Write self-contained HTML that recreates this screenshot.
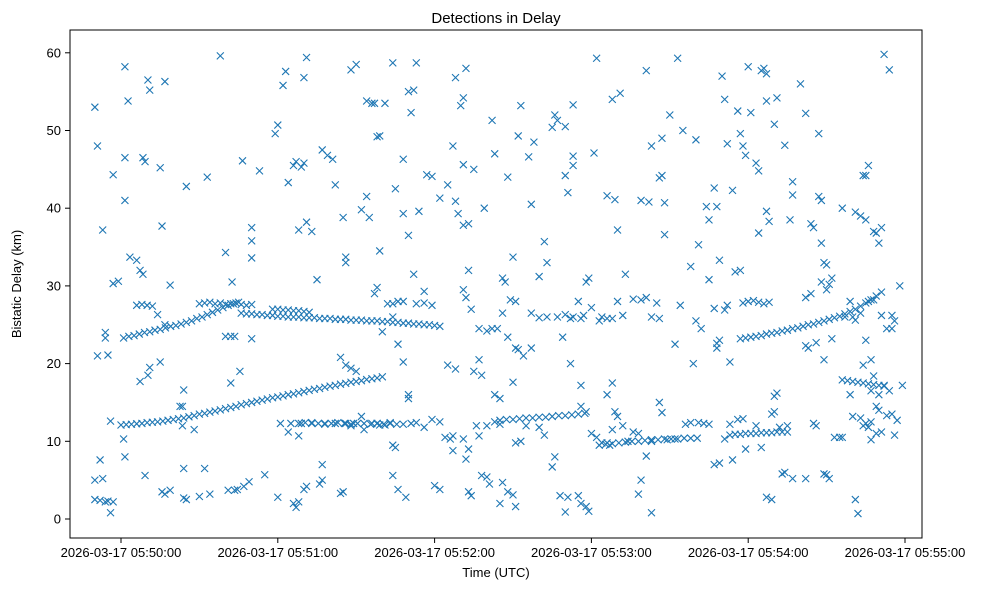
<!DOCTYPE html>
<html><head><meta charset="utf-8"><style>
body{margin:0;background:#fff;}
svg{display:block;font-family:"Liberation Sans","DejaVu Sans",sans-serif;}
</style></head><body>
<svg id="chart" width="988" height="590" viewBox="0 0 988 590" xmlns="http://www.w3.org/2000/svg">
<rect x="0" y="0" width="988" height="590" fill="#fff"/>
<text x="496" y="23" text-anchor="middle" font-size="15" fill="#000">Detections in Delay</text>
<g id="marks"></g>
<g id="axes"></g>
<rect x="70" y="30" width="852" height="508" fill="none" stroke="#000" stroke-width="1"/>
<text x="496" y="577" text-anchor="middle" font-size="13">Time (UTC)</text>
<text x="21" y="284" text-anchor="middle" font-size="13" transform="rotate(-90 21 284)">Bistatic Delay (km)</text>
</svg>
<script>
const yTicks=[0,10,20,30,40,50,60];
const xTickSecs=[0,60,120,180,240,300];
const xTickLabels=["2026-03-17 05:50:00","2026-03-17 05:51:00","2026-03-17 05:52:00","2026-03-17 05:53:00","2026-03-17 05:54:00","2026-03-17 05:55:00"];

const trackA_t=[0,2,4,6,8,10,12,14,16,18,20,22,24,26,28,30,32,34,36,38,40,42,44,46,48,50,52,54,56,58,60,62,64,66,68,70,72,74,76,78,80,82,84,86,88,90,92,94,96,98,100];
const trackA_km=[12.1,12.15,12.2,12.25,12.3,12.4,12.45,12.5,12.6,12.7,12.8,12.9,13.0,13.15,13.3,13.5,13.6,13.75,13.9,14.05,14.2,14.35,14.5,14.7,14.85,15.0,15.15,15.3,15.45,15.6,15.7,15.85,16.0,16.1,16.25,16.4,16.55,16.7,16.8,16.95,17.1,17.2,17.35,17.45,17.6,17.7,17.8,17.95,18.05,18.15,18.3];
const trackB_t=[1,3,5,7,9,11,13,15,17,19,21,23,25,27,29,31,33,35,37,39,41,43,45];
const trackB_km=[23.3,23.5,23.6,23.8,24.0,24.1,24.3,24.4,24.6,24.8,24.9,25.1,25.3,25.5,25.8,26.0,26.3,26.6,26.9,27.2,27.5,27.7,27.9];
const trackB2_t=[6,8,10,12,30,32,34,36,38,40,42,44,46,48,50];
const trackB2_km=[27.5,27.6,27.5,27.4,27.7,27.8,27.9,27.7,27.8,27.6,27.7,27.8,27.6,27.5,27.6];
const trackC_t=[46,48,50,52,54,56,58,60,62,64,66,68,70,72,74,76,78,80,82,84,86,88,90,92,94,96,98,100,102,104,106,108,110,112,114,116,118,120,122];
const trackC_km=[26.5,26.4,26.4,26.3,26.3,26.2,26.2,26.1,26.1,26.0,26.0,26.0,25.9,25.9,25.9,25.8,25.8,25.8,25.7,25.7,25.7,25.6,25.6,25.6,25.5,25.5,25.5,25.4,25.4,25.3,25.3,25.2,25.2,25.1,25.1,25.0,25.0,24.9,24.8];
const trackC2_t=[58,60,62,64,66,68,70,72];
const trackC2_km=[27.0,27.0,26.9,26.9,26.8,26.8,26.7,26.6];
const trackD_t=[68,70.5,73,75.5,78,80.5,83,85.5,88,90.5,93,95.5,98,100.5,103,105.5,108];
const trackD_km=[12.3,12.4,12.3,12.3,12.2,12.3,12.4,12.3,12.2,12.3,12.3,12.2,12.3,12.2,12.3,12.2,12.2];
const trackE_t=[183,185.5,188,190.5,193,195.5,198,200.5,203,205.5,208,210.5,213,215.5,218,220.5];
const trackE_km=[9.5,9.6,9.7,9.8,9.9,10.0,10.0,10.1,10.2,10.2,10.3,10.3,10.3,10.4,10.4,10.4];
const trackF_t=[233,235,237,239,241,243,245,247,249,251,253,255];
const trackF_km=[10.8,10.9,10.9,11.0,11.0,11.0,11.1,11.1,11.1,11.2,11.2,11.2];
const trackG_t=[237,239,241,243,245,247,249,251,253,255,257,259,261,263,265,267,269,271,273,275,277,279,281,283,285,287,289,291];
const trackG_km=[23.2,23.3,23.4,23.5,23.6,23.8,23.9,24.0,24.2,24.3,24.5,24.6,24.8,25.0,25.1,25.3,25.5,25.7,25.9,26.1,26.4,26.7,27.0,27.4,27.8,28.2,28.7,29.2];
const trackG2_t=[238,240,242,244,246,248];
const trackG2_km=[27.8,28.0,28.1,27.9,27.7,27.9];
const trackH_t=[276,278,280,282,284,286,288,290,292];
const trackH_km=[17.9,17.8,17.7,17.6,17.5,17.4,17.3,17.2,17.1];
const trackI_t=[145,147.5,150,152.5,155,157.5,160,162.5,165,167.5,170,172.5,175,177.5];
const trackI_km=[12.7,12.8,12.8,12.9,13.0,13.0,13.1,13.1,13.2,13.3,13.3,13.4,13.5,13.6];

const noiseEarly=[[-10,53],[-9,48],[-7,37.2],[-9,21],[-8,7.6],[-10,5],[-7,5.2],[-10,2.5],[-8,2.4],[-6,2.2],[-5,2.3],[-3,2.2],[-4,0.8],[-6,23.3],[-6,24],[-5,21.1],[-3,30.3],[-3,44.3],[-4,12.6],[-1,30.6],
[1.5,58.2],[1.5,46.5],[1.5,41],[1,10.3],[1.5,8],[2.7,53.8],[3.4,33.7],[6,33.3],[7.3,32],[8.4,31.5],[7.3,17.7],[10.3,18.5],[11,19.5],[9.2,5.6],[10.3,56.5],[11,55.2],[8.4,46.5],[9.2,46],[15,45.2],[15.7,37.7],[16.8,56.3],[15,20.2],[18.8,30.1],[16.8,3.2],[18.8,3.7],[15.7,3.5],[14,26.3],[16.8,25],
[22.6,14.5],[23.5,14.5],[24,16.6],[23.5,12],[24,2.7],[25,2.5],[25,42.8],[24,6.5],[28,11.5],[30,2.9],[32,6.5],[33,44],[34,3.2],[38,59.6],[40,34.3],[41,3.7],[42,17.5],[42.5,30.5],[43.5,3.7],[44.5,3.8],[45.5,19],[46.5,46.1],[47,4.2],[49,4.8],[50,35.8],[50,37.5],[50,33.6],[50,23.2],[40,23.5],[42,23.5],[43.5,23.5]];
const noiseMid=[[53,44.8],[59,49.6],[60,50.7],[62,55.8],[63,57.6],[66,45.5],[64,43.3],[67,46],[69,45.3],[68,37.2],[70,45.8],[70,56.8],[71,59.4],[71,38.2],[73,37],[75,30.8],[77,47.5],[79,46.8],[81,46.3],[82,43],[85,38.8],[86,33.7],[86,33],[88,57.8],[90,58.5],[92,39.8],[94,41.5],[95,38.8],[94,53.8],[96,53.5],[97,53.5],[98,49.2],[99,49.3],[99,34.5],[98,29.8],[97,29],[101,53.5],[104,58.7],[105,42.5],[108,46.3],[108,39.3],[110,36.5],[110,55],[112,55.2],[111,52.3],[113,58.7],[112,31.5],[106,28],[108,28],[104,26],[100,24.1],[102,27.7],[104,27.7],[113,27.7],[116,29.3],[116,27.8],[119,27.5],
[55,5.7],[60,2.8],[61,12.3],[64,11.2],[65,12.3],[66,2],[67,1.5],[68,2.2],[68,10.7],[69,12.3],[70,3.8],[71,4.2],[73,12.4],[76,4.5],[77,5],[77,7],[78,12.3],[82,12.3],[84,3.3],[85,3.5],[86,12.3],[88,12],[89,12.3],[84,20.8],[86,19.8],[88,19.4],[90,19],[92,13.2],[93,11.5],[96,12.3],[98,12.3],[99,12.1],[101,12.1],[103,12.4],[104,9.5],[105,9.2],[104,5.6],[106,3.8],[109,2.8],[106,22.5],[108,20.2],[110,16],[110,15.5],[111,12.3],[113,12.4],[116,11.8],[119,12.8],[120,4.3],[122,3.8],[124,10.5],[126,10.3],[127,8.8],[128,19.3],[125,19.8],[127,10.7]];
const noiseCenter=[[114,39.6],[117,44.3],[119,44.1],[122,41.3],[125,43],[127,48],[128,40.9],[129,39.3],[131,37.8],[133,38],[130,53.2],[131,54.2],[132,58],[128,56.8],[131,45.6],[135,45],[139,40],[142,51.3],[143,47],[146,31],[147,30.5],[149,28.2],[151,28],[150,33.7],[148,44],[152,49.3],[153,53.2],[156,46.6],[158,48.5],[157,40.5],[160,31.2],[162,35.7],[163,33],[165,50.4],[166,52],[167,51.3],[170,50.5],[170,44.2],[173,53.3],[173,46.7],[173,45.5],[171,42],[175,28],[178,30.5],[179,31],[180,27.2],[181,47.1],[182,59.3],[186,41.6],[188,54],[189,41.1],[190,37.2],[191,54.8],[193,31.5],[196,28.3],
[131,29.5],[132,28.5],[133,32],[134,27],[137,24.5],[140,24.2],[142,24.5],[144,24.5],[146,26.5],[148,23.4],[151,22],[152,21.8],[154,21],[157,22],[157,26.5],[160,25.9],[163,26],[167,26],[170,26.3],[172,25.8],[173,26],[176,25.8],[177,26.2],[169,23.4],[172,20],[176,17.2],[176,14.5],[178,13.8],[183,25.5],[184,26],[186,25.8],[188,25.8],[190,28],[192,26.2],[135,19],[137,20.5],[138,18.5],[143,16],[145,15.5],[150,17.6],
[122,12.5],[131,10.3],[133,9],[132,7.7],[136,12],[137,10.7],[140,12],[143,12.5],[145,12.2],[151,9.8],[153,10],[155,12],[133,3.5],[134,3],[138,5.6],[140,5.4],[141,4.5],[145,2],[146,4.7],[148,3.5],[150,3.1],[151,1.6],[160,11.8],[162,10.8],[165,6.7],[166,8],[168,3],[170,0.9],[171,2.8],[175,3],[176,2],[178,1.6],[179,1],[180,11],[182,10.5],[184,9.8],[186,9.8],[188,11.5],[192,12],[194,10],[190,13.2],[187,9.5],[196,11.2],[198,11]];
const noiseLate=[[199,41],[202,40.8],[201,57.7],[203,48],[206,43.9],[207,49],[207,44.2],[208,40.7],[210,52],[213,59.3],[215,50],[218,32.5],[221,35.3],[220,48.8],[224,40.2],[225,38.5],[228,40.2],[227,42.6],[230,57],[231,54],[232,48.3],[234,42.3],[236,52.5],[237,49.6],[238,48],[239,46.8],[240,58.2],[241,52.3],[243,45.8],[244,44.8],[245,57.7],[246,58],[247,57.3],[247,53.8],[250,50.8],[251,54.2],[254,48.1],[256,38.5],[257,43.4],[257,41.7],
[199,28.2],[201,28.5],[203,26],[205,27.8],[206,25.8],[208,36.6],[212,22.5],[214,27.5],[219,20],[220,25.5],[222,24.5],[225,30.8],[227,27.1],[228,22],[228,22.6],[229,23],[229,33.3],[231,26.9],[232,27.5],[233,20.2],[235,31.8],[237,32],[244,36.8],[247,39.6],[248,38.3],
[199,5],[198,3.2],[201,8.1],[203,0.8],[203,10],[206,15],[207,13.7],[209,10.2],[212,10.3],[216,12.2],[218,12.4],[221,12.4],[223,12.3],[225,12.2],[227,7],[229,7.2],[231,10.3],[233,12.2],[234,7.6],[236,12.8],[238,12.9],[243,12],[239,9],[245,9.2],[247,2.8],[249,2.5],[249,13.5],[250,13.8],[251,16.2],[250,15.8],[252,11.8],[255,12],[254,6],[253,5.8],[257,5.2],[188,17.5],[189,13.8],[186,16]];
const noiseEnd=[[260,56],[262,52.2],[264,38],[265,37.5],[267,41.5],[268,41],[267,49.6],[268,35.5],[269,33],[270,32.7],[271,30.2],[272,31],[276,40],[279,28],[281,39.5],[283,39],[284,44.2],[285,44.2],[286,45.5],[285,38.5],[288,37],[289,36.8],[290,35.5],[291,37.5],[292,59.8],[294,57.8],[262,28.5],[264,29],[270,29.5],[268,30.5],
[262,22.3],[263,22],[266,22.7],[269,20.5],[272,23.2],[277,26],[280,26],[281,25.6],[283,26.5],[285,23],[287,20.5],[291,26.2],[295,26.2],[298,30],[293,24.5],[295,24.5],[296,25.5],[286,28],[288,28.2],
[262,5.2],[265,12.3],[266,12],[269,5.8],[270,5.7],[271,5.2],[273,10.5],[275,10.5],[276,10.5],[279,16],[280,13.2],[281,2.5],[282,0.7],[283,13],[284,12],[285,12.3],[286,11.8],[287,12.5],[287,16.5],[289,14.5],[290,14],[291,11.2],[293,13.3],[295,13.5],[296,10.8],[297,12.7],[287,10.2],[289,11],[292,17.2],[299,17.2],[284,19.8],[288,18.4],[290,16],[294,16.5]];

const X0=121, PXS=156.8/60, Y0=519, PYK=7.77;
function xScale(s){return X0+s*PXS;}
function yScale(k){return Y0-k*PYK;}
const NS="http://www.w3.org/2000/svg";
const marks=document.getElementById('marks');
const axes=document.getElementById('axes');
const COLOR="#1f77b4";
function drawX(s,k){
  const cx=xScale(s), cy=yScale(k), r=3.5;
  const p=document.createElementNS(NS,'path');
  p.setAttribute('d',`M${cx-r},${cy-r}L${cx+r},${cy+r}M${cx-r},${cy+r}L${cx+r},${cy-r}`);
  p.setAttribute('stroke',COLOR);
  p.setAttribute('stroke-width','1.1');
  p.setAttribute('fill','none');
  
  
  marks.appendChild(p);
}
function drawTrack(ts,ks){const n=Math.min(ts.length,ks.length);for(let i=0;i<n;i++)drawX(ts[i],ks[i]);}
function drawPairs(arr){arr.forEach(d=>drawX(d[0],d[1]));}
drawTrack(trackA_t,trackA_km);drawTrack(trackB_t,trackB_km);drawTrack(trackB2_t,trackB2_km);
drawTrack(trackC_t,trackC_km);drawTrack(trackC2_t,trackC2_km);drawTrack(trackD_t,trackD_km);
drawTrack(trackE_t,trackE_km);drawTrack(trackF_t,trackF_km);drawTrack(trackG_t,trackG_km);
drawTrack(trackG2_t,trackG2_km);drawTrack(trackH_t,trackH_km);drawTrack(trackI_t,trackI_km);
drawPairs(noiseEarly);drawPairs(noiseMid);drawPairs(noiseCenter);drawPairs(noiseLate);drawPairs(noiseEnd);

yTicks.forEach(v=>{
  const y=yScale(v);
  const l=document.createElementNS(NS,'line');
  l.setAttribute('x1',65);l.setAttribute('x2',70);l.setAttribute('y1',y);l.setAttribute('y2',y);
  l.setAttribute('stroke','#000');
  
  
  axes.appendChild(l);
  const t=document.createElementNS(NS,'text');
  t.setAttribute('x',61);t.setAttribute('y',y+4.5);t.setAttribute('text-anchor','end');t.setAttribute('font-size','13');
  t.textContent=String(v);
  
  
  axes.appendChild(t);
});
xTickSecs.forEach((s,i)=>{
  const x=xScale(s);
  const l=document.createElementNS(NS,'line');
  l.setAttribute('x1',x);l.setAttribute('x2',x);l.setAttribute('y1',538);l.setAttribute('y2',543);
  l.setAttribute('stroke','#000');
  
  
  axes.appendChild(l);
  const t=document.createElementNS(NS,'text');
  t.setAttribute('x',x);t.setAttribute('y',557);t.setAttribute('text-anchor','middle');t.setAttribute('font-size','13');
  t.textContent=xTickLabels[i];
  
  
  axes.appendChild(t);
});
</script>
</body></html>
